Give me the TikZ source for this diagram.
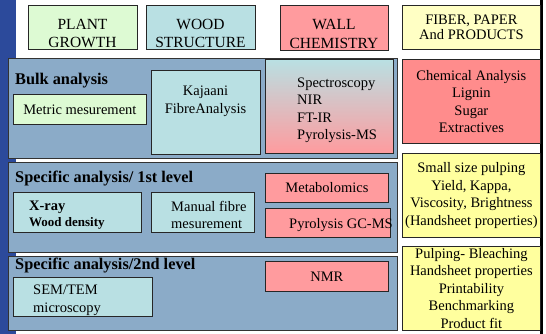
\documentclass[tikz,border=0pt]{standalone}
\usepackage{fontspec}
\setmainfont{Liberation Serif}
\usetikzlibrary{positioning}

\definecolor{barblue}{HTML}{2C4A9B}
\definecolor{panelblue}{HTML}{8BABC8}
\definecolor{plantgreen}{HTML}{DDFAD3}
\definecolor{woodcyan}{HTML}{B9E0E3}
\definecolor{wallpink}{HTML}{FF9B9E}
\definecolor{chempink}{HTML}{FF8C8C}
\definecolor{fiberyellow}{HTML}{FFFFC4}
\definecolor{pulpyellow}{HTML}{FFFF9E}

\begin{document}
\begin{tikzpicture}[x=1pt,y=-1pt]
	\tikzstyle{box}=[rectangle,draw=black!85,line width=0.8pt,inner sep=0pt,anchor=north west]
	\tikzstyle{plantbox}=[box, fill=plantgreen]
	\tikzstyle{woodbox}=[box, fill=woodcyan]
	\tikzstyle{wallbox}=[box, fill=wallpink]
	\tikzstyle{chembox}=[box, fill=chempink]
	\tikzstyle{fiberbox}=[box, fill=fiberyellow]
	\tikzstyle{pulpbox}=[box, fill=pulpyellow]
	\tikzstyle{panel}=[draw=black!80,line width=0.8pt,fill=panelblue]

	\tikzstyle{txt}=[inner sep=0pt,align=center,font=\fontsize{14.5}{17.5}\selectfont]
	\tikzstyle{ltxt}=[txt,align=left,anchor=west]
	\tikzstyle{headtxt}=[txt,font=\fontsize{15.5}{18.5}\selectfont]
	\tikzstyle{title}=[inner sep=0pt,anchor=base west,font=\bfseries\fontsize{16.3}{19}\selectfont]

	\useasboundingbox (0,0) rectangle (546,334);
	\fill[barblue] (0,0) rectangle (16,334);
	\draw[line width=2.5pt] (541.5,0) -- (541.5,334);

	%headers
	\node[plantbox,minimum width=109,minimum height=44] (plantBox) at (28,5) {};
	\node[headtxt] (plantText) at (82.5,33.5) {PLANT\\GROWTH};
	\node[woodbox,minimum width=109,minimum height=44] (woodBox) at (146,5) {};
	\node[headtxt] (woodText) at (200.5,33.5) {WOOD\\STRUCTURE};
	\node[wallbox,minimum width=108,minimum height=45] (wallBox) at (280,5) {};
	\node[headtxt] (wallText) at (334,34) {WALL\\CHEMISTRY};
	\node[fiberbox,minimum width=138,minimum height=44,font=\fontsize{14.5}{15}\selectfont,align=center] (fiberBox) at (402,5) {FIBER, PAPER\\And PRODUCTS};

	%bulk analysis
	\draw[panel] (8,58) rectangle (397,158);
	\node[title] (bulkTitle) at (15,85) {Bulk analysis};
	\node[plantbox,txt,anchor=north west,minimum width=133,minimum height=30] (metricBox) at (13,94) {Metric mesurement};
	\node[woodbox,minimum width=109,minimum height=84] (kajaaniBox) at (151,70) {};
	\node[txt] (kajaaniText) at (205.5,101.5) {Kajaani\\FibreAnalysis};
	\node[box,top color=woodcyan,bottom color=wallpink,minimum width=128,minimum height=94] (spectroBox) at (265,59) {};
	\node[ltxt,right=32pt of spectroBox.west,yshift=-4pt] (spectroText) {Spectroscopy\\NIR\\FT-IR\\Pyrolysis-MS};
	\node[chembox,txt,anchor=north west,minimum width=138,minimum height=84] (chemBox) at (402,59) {Chemical Analysis\\Lignin\\Sugar\\Extractives};

	%specific analysis, 1st level
	\draw[panel] (8,162) rectangle (397,252);
	\node[title] (firstTitle) at (15,182) {Specific analysis/ 1st level};
	\node[woodbox,minimum width=128,minimum height=40] (xrayBox) at (13,192) {};
	\node[ltxt,right=16pt of xrayBox.west,yshift=-3pt,font=\bfseries\fontsize{14.5}{15.5}\selectfont] (xrayText) {X-ray\\{\fontsize{13}{15.5}\selectfont Wood density}};
	\node[woodbox,minimum width=103,minimum height=40] (manualBox) at (151,192) {};
	\node[ltxt,right=20pt of manualBox.west,yshift=-2.5pt,font=\fontsize{14.5}{17}\selectfont] (manualText) {Manual fibre\\mesurement};
	\node[wallbox,txt,anchor=north west,minimum width=123,minimum height=29] (metabBox) at (265,173) {Metabolomics};
	\node[wallbox,minimum width=125,minimum height=29] (pyroBox) at (265,208) {};
	\node[ltxt,right=24pt of pyroBox.west,yshift=-2pt] (pyroText) {Pyrolysis GC-MS};
	\node[pulpbox,txt,anchor=north west,minimum width=138,minimum height=84] (smallBox) at (402,153) {Small size pulping\\Yield, Kappa,\\Viscosity, Brightness\\(Handsheet properties)};

	%specific analysis, 2nd level
	\draw[panel] (8,256) rectangle (397,330);
	\node[title] (secondTitle) at (15,269) {Specific analysis/2nd level};
	\node[woodbox,minimum width=139,minimum height=39] (semBox) at (13,277) {};
	\node[ltxt,right=20pt of semBox.west,yshift=-3pt,font=\fontsize{14.5}{18}\selectfont] (semText) {SEM/TEM\\microscopy};
	\node[wallbox,txt,anchor=north west,minimum width=123,minimum height=30] (nmrBox) at (265,261) {NMR};
	\node[pulpbox,txt,anchor=north west,minimum width=138,minimum height=84,font=\fontsize{14.5}{17.5}\selectfont] (pulpBox) at (402,246) {Pulping- Bleaching\\Handsheet properties\\Printability\\Benchmarking\\Product fit};

\end{tikzpicture}
\end{document}
